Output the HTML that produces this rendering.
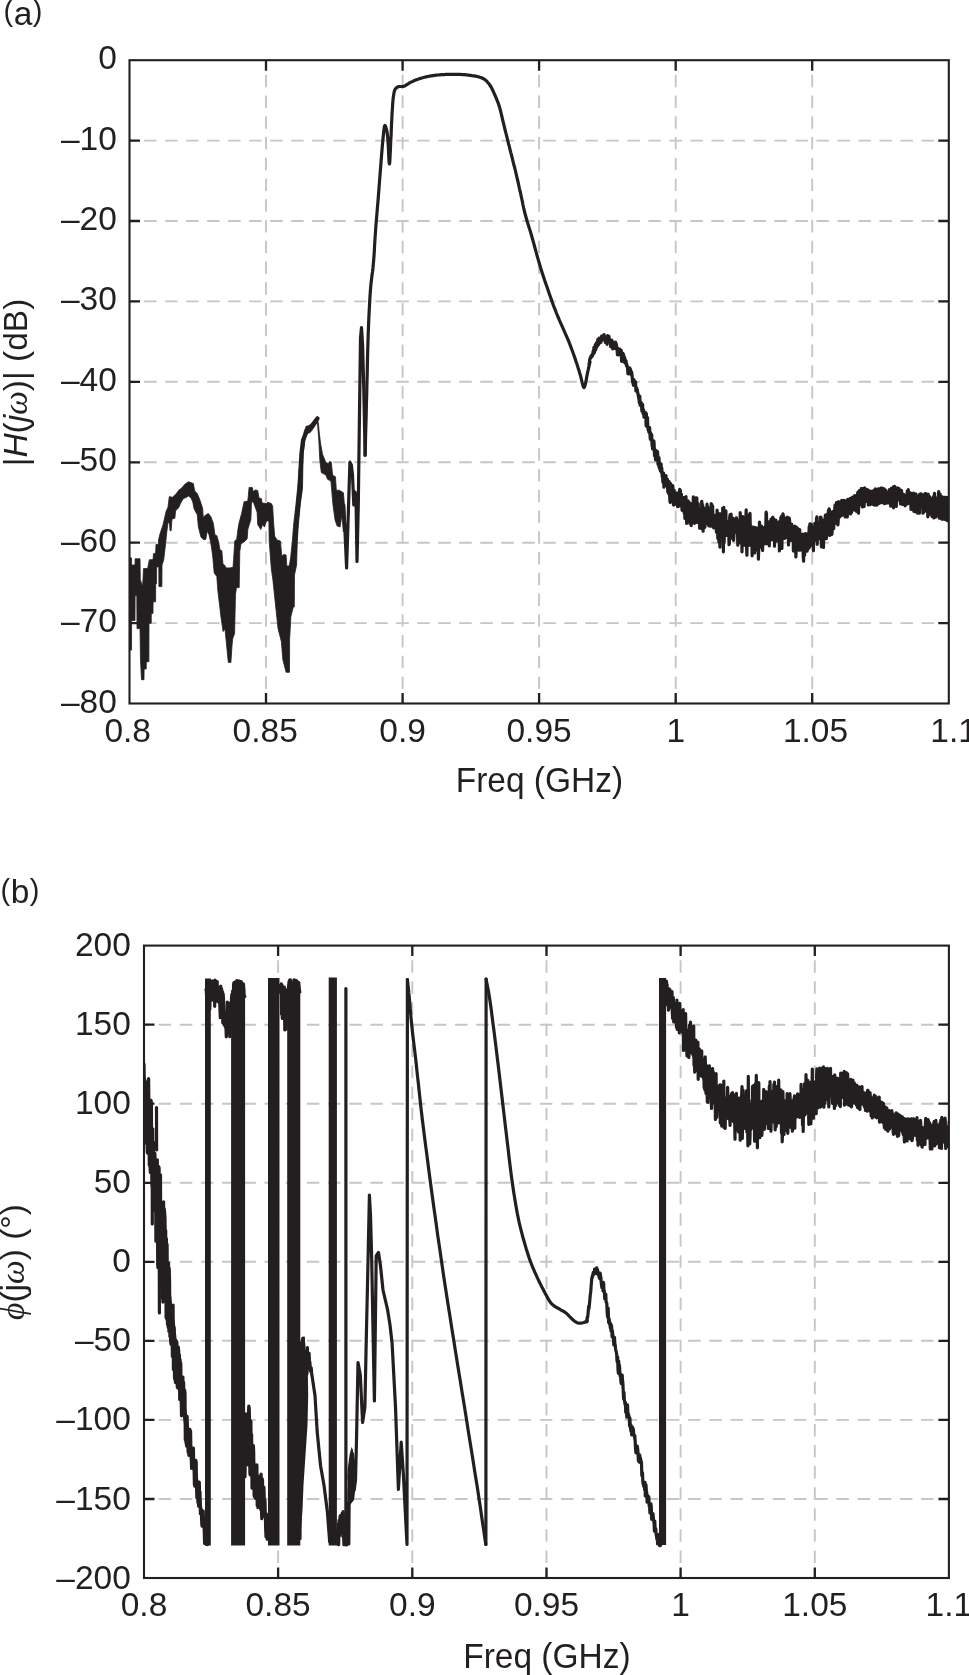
<!DOCTYPE html><html><head><meta charset="utf-8"><style>html,body{margin:0;padding:0;background:#fff;}body{width:969px;height:1675px;overflow:hidden;position:relative;}svg{position:absolute;left:0;top:0;display:block;will-change:transform;}text{font-family:"Liberation Sans",sans-serif;font-size:33.5px;fill:#231f20;}.it{font-style:italic;}.sr{font-family:"Liberation Serif",serif;font-style:italic;}</style></head><body>
<svg width="969" height="1675" viewBox="0 0 969 1675">
<defs><clipPath id="ca"><rect x="129.5" y="60.2" width="819.3" height="643.3"/></clipPath><clipPath id="cb"><rect x="144" y="945.6" width="804.9" height="632.4"/></clipPath></defs>
<line x1="266" y1="60.2" x2="266" y2="703.5" stroke="#c5c6ca" stroke-width="1.9" stroke-dasharray="12.50 8.25" stroke-dashoffset="6.15"/>
<line x1="402.6" y1="60.2" x2="402.6" y2="703.5" stroke="#c5c6ca" stroke-width="1.9" stroke-dasharray="12.50 8.25" stroke-dashoffset="6.15"/>
<line x1="539.1" y1="60.2" x2="539.1" y2="703.5" stroke="#c5c6ca" stroke-width="1.9" stroke-dasharray="12.50 8.25" stroke-dashoffset="6.15"/>
<line x1="675.7" y1="60.2" x2="675.7" y2="703.5" stroke="#c5c6ca" stroke-width="1.9" stroke-dasharray="12.50 8.25" stroke-dashoffset="6.15"/>
<line x1="812.2" y1="60.2" x2="812.2" y2="703.5" stroke="#c5c6ca" stroke-width="1.9" stroke-dasharray="12.50 8.25" stroke-dashoffset="6.15"/>
<line x1="129.5" y1="140.6" x2="948.8" y2="140.6" stroke="#c5c6ca" stroke-width="1.9" stroke-dasharray="12.50 8.51" stroke-dashoffset="6.41"/>
<line x1="129.5" y1="221" x2="948.8" y2="221" stroke="#c5c6ca" stroke-width="1.9" stroke-dasharray="12.50 8.51" stroke-dashoffset="6.41"/>
<line x1="129.5" y1="301.4" x2="948.8" y2="301.4" stroke="#c5c6ca" stroke-width="1.9" stroke-dasharray="12.50 8.51" stroke-dashoffset="6.41"/>
<line x1="129.5" y1="381.8" x2="948.8" y2="381.8" stroke="#c5c6ca" stroke-width="1.9" stroke-dasharray="12.50 8.51" stroke-dashoffset="6.41"/>
<line x1="129.5" y1="462.3" x2="948.8" y2="462.3" stroke="#c5c6ca" stroke-width="1.9" stroke-dasharray="12.50 8.51" stroke-dashoffset="6.41"/>
<line x1="129.5" y1="542.7" x2="948.8" y2="542.7" stroke="#c5c6ca" stroke-width="1.9" stroke-dasharray="12.50 8.51" stroke-dashoffset="6.41"/>
<line x1="129.5" y1="623.1" x2="948.8" y2="623.1" stroke="#c5c6ca" stroke-width="1.9" stroke-dasharray="12.50 8.51" stroke-dashoffset="6.41"/>
<g clip-path="url(#ca)">
<path d="M129 557.9L131.5 557.9L131.6 565L135 565L135.1 558.8L140 558.8L140.3 579.4L142.6 586.6L143.5 568.6L147.6 568.6L148.5 564.2L149.4 559.7L153 559.7L153.5 553.4L155.6 553.4L156 544.5L158.3 544.5L158.5 540L160 533.8L163.1 524.5L166.2 510.9L168 507.2L169.3 496.6L172.4 497.3L175.5 494.5L179.2 489.8L181.7 488L184.8 484.3L188.5 481.8L193.4 483.6L194.7 491L197.2 493.5L199.6 499.1L202.7 508.4L203.3 518.3L204.6 515.8L208.3 513.4L210.8 516.5L213.3 523.3L215 535.1L216.9 535.7L218.7 542.5L220 550L221.8 550.6L223 564.2L224.9 565.4L226.1 567.9L229.9 567.9L233 567.3L233.6 559.3L234.8 540.7L236.7 539.4L237.9 529.5L239.1 522.7L241.6 513.4L244.1 501.7L247.8 501.1L249.1 487.4L252.2 487.4L253.4 491.8L255.2 489.9L257.7 490.5L259 498L261.4 498.6L262.1 502.9L266.4 503.5L267.6 502.3L271.3 503.5L272.6 506L273.8 525.2L274.7 536.2L277.1 540L280.4 541L281.8 556.3L283.8 554.4L286.1 555L286.8 566L289.2 566L290.6 558L292.3 541.5L293.6 525L296 504L297.5 489L299 470L300.5 453.6L302.3 440.4L304.3 431.2L306.3 426L310.2 426L314.1 420.7L317.4 416.5L317.4 422L314.1 427.3L310.2 432.5L306.3 433.8L305 440L303.2 453.4L302.8 470.2L302.5 488.5L300.4 503.6L298.4 524.5L297.3 541.2L296.6 565L294.5 575L294.3 606.9L293.3 606.9L290.9 616.5L289.6 639.9L289.5 672.3L286.1 672.3L282.8 659.4L281.4 641.8L278 628.4L272.8 579.2L271.3 568.7L269.2 541L268.9 520.9L266.4 520.9L264.5 527.1L262.7 524.6L260.8 529.5L257.7 524.6L257.1 512.2L253.4 502.3L251.5 501.7L250.9 519.6L249.7 523.3L247.8 529.5L247.2 538.8L244.1 541.9L241 543.8L239.8 551.2L239.2 587.6L236.5 587.6L235.5 594.2L234.6 633.6L232.6 638.8L231.9 647.3L230.9 662.4L228.3 662.4L225 629L223.1 631.6L220.8 615.8L217.8 590.2L216.8 576.4L214.2 573L212.6 555L210.8 543.1L208.9 534.4L207.1 531.3L205.8 539.4L203.3 539.4L200.9 536.9L198.4 527L197.2 514.6L194.1 509L192.8 502.2L191 497.9L188.5 496L186.6 497.3L183.5 498.5L181.1 502.2L178.6 507.8L175.5 510.9L174.9 518.3L172 519L171.1 530.7L170 530.7L169.5 523L168 522.7L166.8 532L165.6 543.7L163.7 560L162 565L161.9 586.6L158.9 586.6L158.8 566.9L156.6 566.9L156.5 583.9L155.7 583.9L155.6 601.8L153.1 601.8L153 613.4L151.3 613.4L151.2 623.3L149 623.3L148.9 661.8L146.3 661.8L146.2 669L144.1 669L144 679.7L141.5 679.7L140.5 660L140 628.6L137 628.6L136.8 595.5L135.1 595.5L135 620.6L131.6 620.6L131.5 650.1L129 650.1Z" fill="#231f20" stroke="#231f20" stroke-width="0.8" stroke-linejoin="round"/>
<path d="M317.4 416.5L318.5 425L319.2 432L320.5 443L322.5 454.2L325.9 462.6L328.4 463.4L329.5 461.5L331.3 462.1L332.6 475.1L335.5 476.8L336.3 490.2L339.2 490.2L343.4 492.7L344.7 508.5L344.7 525L343.4 531.9L341.8 515.2L340.1 526.9L337.2 526.1L335.1 520.2L333 505.2L331.7 490.2L330.9 481L327.5 479.3L325.9 475.1L321.3 472.6L319.8 460L318.8 440L317.4 422Z" fill="#231f20" stroke="#231f20" stroke-width="0.8" stroke-linejoin="round"/>
<path d="M293.2 565L293.9 557.9L295.1 541.2L296.2 524.5L298.3 503.6L300 488.5L300.6 470.2L301.5 453.4L303.1 440L306.5 431.7L309.5 427.5L312 425.5L315.5 421L317.4 418.5" fill="none" stroke="#231f20" stroke-width="4.3" stroke-linejoin="round" stroke-linecap="round"/>
<path d="M343.8 505L346.6 568L349.9 462.2L351.3 465L352.5 475L353.8 505L355 492L356 497L357 561.5L358.3 505L359.4 420L360.5 338L361.5 327.5L362.6 345L363.9 394.3L365.1 455.2" fill="none" stroke="#231f20" stroke-width="3.2" stroke-linejoin="round" stroke-linecap="round"/>
<path d="M365.1 455.2L365.4 445L365.6 434.9L365.9 424.7L366.2 414.6L366.4 404.4L366.7 394.3L366.9 384.2L367.2 374.1L367.4 363.9L367.6 353.9L367.9 344.1L368.2 334.6L368.5 326.5L368.8 318.6L369.2 310.8L369.6 303.3L370 296.1L370.5 289.3L370.9 284.5L371.4 280.2L371.9 276L372.5 271.8L373 267.5L373.4 263L373.9 257.3L374.3 251.3L374.6 245.2L375 239L375.4 233L375.8 227.2L376.2 222.2L376.6 217.4L377 212.7L377.4 208L377.8 203.3L378.2 198.5L378.6 193.4L379 188.2L379.4 183L379.8 177.8L380.2 172.6L380.6 167.5L381 162.5L381.4 157.4L381.8 152.4L382.2 147.5L382.6 142.9L383 138.8L383.3 136L383.6 133L383.9 130.2L384.2 127.8L384.5 126.1L384.9 125.5L385.2 125.7L385.6 126.4L385.9 127.4L386.3 128.7L386.7 130.1L387 131.6L387.6 136.3L388.1 142.9L388.5 150.2L388.8 157L389.1 162.1L389.4 164L389.7 162.8L389.9 159.7L390.1 155.2L390.4 150L390.6 144.7L390.8 140L391.1 135.1L391.3 129.8L391.5 124.5L391.8 119.3L392 114.4L392.3 110L392.5 107.3L392.6 104.8L392.8 102.3L393 100.1L393.2 98L393.5 96L393.7 94.7L393.9 93.4L394.1 92.2L394.4 91.1L394.7 90.1L395.2 89.2L395.6 88.6L396.1 88.1L396.6 87.7L397.1 87.3L397.7 87L398.3 86.7L399 86.5L399.9 86.5L400.7 86.5L401.6 86.6L402.5 86.6L403.4 86.4L404.5 86L405.7 85.3L406.8 84.6L408.1 83.8L409.3 83L410.6 82.3L412.2 81.6L413.9 80.8L415.7 80.1L417.4 79.4L419.2 78.8L421 78.2L422.7 77.7L424.4 77.3L426.1 76.9L427.9 76.5L429.6 76.2L431.3 75.9L433 75.6L434.7 75.4L436.3 75.2L438 75L439.8 74.8L441.6 74.7L443.9 74.6L446.3 74.4L448.7 74.3L451.2 74.3L453.6 74.3L456 74.3L458.1 74.4L460.2 74.4L462.3 74.6L464.4 74.7L466.4 74.9L468.4 75.1L470.2 75.3L472.1 75.6L473.9 75.8L475.6 76.1L477.3 76.5L478.8 76.9L479.9 77.3L481 77.6L482 78L483 78.5L484 79L484.9 79.6L485.9 80.4L486.8 81.2L487.6 82.2L488.5 83.2L489.3 84.3L490.1 85.5L491.1 87L492 88.7L492.8 90.5L493.7 92.4L494.5 94.2L495.3 96L496 97.7L496.7 99.3L497.4 101L498 102.7L498.7 104.5L499.3 106.4L500.1 109L500.8 111.8L501.5 114.8L502.2 117.8L502.9 120.8L503.6 123.7L504.3 126.6L505 129.5L505.7 132.4L506.5 135.3L507.2 138.2L507.9 141.1L508.6 144L509.4 146.9L510.1 149.8L510.8 152.6L511.6 155.5L512.3 158.4L513 161.3L513.7 164.2L514.5 167L515.2 169.9L515.9 172.8L516.6 175.8L517.3 179L518.1 182.2L518.8 185.5L519.5 188.8L520.3 192L521 195.3L521.7 198.5L522.4 201.8L523 205L523.7 208.2L524.5 211.5L525.3 214.8L526.3 218.3L527.3 221.8L528.4 225.3L529.5 228.9L530.7 232.6L531.8 236.5L533.2 241.4L534.6 246.5L536 251.7L537.5 257.1L539 262.3L540.5 267.5L542.1 272.5L543.7 277.5L545.4 282.5L547.1 287.3L548.7 292L550.2 296.3L551.3 299.4L552.3 302.3L553.3 305L554.3 307.7L555.4 310.3L556.4 313L557.4 315.5L558.5 318L559.5 320.4L560.6 322.8L561.6 325.2L562.7 327.6L563.8 330L564.8 332.4L565.9 334.8L566.9 337.2L568 339.7L569 342.2L570.1 344.9L571.1 347.7L572.2 350.5L573.2 353.3L574.2 356.1L575.2 358.9L576.1 361.7L577.1 364.6L578 367.5L578.9 370.3L579.7 373.1L580.5 375.7L581.1 378.1L581.7 380.7L582.3 383.2L582.9 385.4L583.4 386.9L584 387.5L584.7 386.6L585.3 384.4L586 381.2L586.6 377.7L587.2 374.3L587.8 371.5L588.2 369.8L588.6 368.2L588.9 366.6L589.3 365.1L589.6 363.6L590 362" fill="none" stroke="#231f20" stroke-width="3.2" stroke-linejoin="round" stroke-linecap="round"/>
<path d="M589 360.6L591 355.9L593 351.1L595 346.2L597 341.2L599 339.3L601 337.7L603 336.1L605 336.6L607 337.8L609 338.9L611 340.1L613 342.1L615 344L617 346L619 348L621 351.9L623 356L625 360.1L627 364L629 367.8L631 371.7L633 377L635 383.2L637 389.3L639 395.2L641 401L643 406.7L645 412.9L647 419.5L649 426.2L651 432.9L653 439.9L655 446.9L657 453.1L659 459L661 464.9L663 473.6L665 478.4L667 482.5L669 485.7L671 489L673 491.6L675 494L677 495.9L679 496.9L681 497.9L683 498.9L685 500.1L687 501.2L689 502.4L691 503.2L693 504L695 504.8L697 505.7L699 506.9L701 508.2L703 509.3L705 510.2L707 511.2L709 512.1L711 512.7L713 513.3L715 513.9L717 515L719 516.5L721 518L723 518.6L725 519.2L727 519.8L729 520.5L731 521L733 521.5L735 521.9L737 522.4L739 523.1L741 523.8L743 524.6L745 525L747 525.2L749 525.3L751 525.4L753 525.6L755 526.1L757 526.6L759 527.1L761 526.7L763 526.2L765 525.7L767 525.2L769 524.7L771 524.7L773 524.7L775 524.7L777 524.7L779 525.2L781 525.7L783 526.1L785 526.6L787 527.1L789 527.7L791 529L793 530.4L795 531.7L797 532.7L799 532.8L801 532.9L803 532.9L805 532.7L807 532.5L809 531.8L811 530.4L813 528.9L815 528L817 527.1L819 526.2L821 525.3L823 523L825 520.3L827 517.5L829 514.5L831 512.5L833 510.9L835 508.9L837 507L839 505.3L841 504.6L843 504L845 503.4L847 502.7L849 501.9L851 501.1L853 500L855 498.5L857 497L859 495.6L861 494.3L863 493.5L865 493.5L867 493.5L869 493.5L871 493.1L873 492.5L875 491.9L877 491.4L879 490.8L881 491.2L883 491.9L885 492.6L887 493.3L889 492.6L891 492L893 491.3L895 491L897 491.6L899 492.2L901 492.7L903 493.3L905 494L907 494.6L909 495.3L911 495.7L913 496.2L915 496.7L917 497L919 497.1L921 497.1L923 497.2L925 497.6L927 498.3L929 499.1L931 499.9L933 499.4L935 498.5L937 498.5L939 499.3L941 500L943 500.7L945 500.7L947 500.8L949 500.8L950.5 500.8L950.5 517.3L949 517.3L947 517.2L945 516.7L943 516.3L941 515.6L939 514.9L937 514.2L935 513.6L933 513.3L931 512.7L929 511.5L927 510.3L925 509L923 508.3L921 508.1L919 507.8L917 507.5L915 506.7L913 505.8L911 504.8L909 503.9L907 503.3L905 502.7L903 502L901 501.6L899 501.5L897 501.4L895 501.3L893 501.1L891 501L889 500.8L887 500.6L885 500.5L883 500.4L881 500.3L879 500.2L877 500.6L875 500.9L873 501.2L871 501.5L869 502L867 502.8L865 503.6L863 504.5L861 505.6L859 506.9L857 507.9L855 508.8L853 509.7L851 510.6L849 511.4L847 512.2L845 513.7L843 515.7L841 517.8L839 519.8L837 521.5L835 523.2L833 524.8L831 525.3L829 526.7L827 530.9L825 534.5L823 537.5L821 540L819 540.5L817 541.1L815 541.6L813 542.2L811 542.8L809 543.4L807 544.3L805 545.5L803 546.6L801 546.6L799 546L797 545.4L795 544.1L793 542.6L791 541.2L789 539.7L787 539.1L785 538.8L783 538.4L781 538L779 537.7L777 537.3L775 537.3L773 537.3L771 537.3L769 537.3L767 538.2L765 539.1L763 540L761 540.9L759 541.9L757 541.8L755 541.7L753 541.6L751 541.1L749 540.5L747 539.9L745 539.3L743 538.2L741 536.9L739 535.5L737 534.3L735 533.8L733 533.4L731 532.9L729 532.4L727 532.3L725 532.2L723 532.1L721 532L719 529.1L717 526.2L715 524.4L713 523.8L711 523.2L709 522.6L707 521.7L705 520.8L703 519.8L701 518.7L699 517.4L697 516.2L695 515.7L693 515.5L691 515.4L689 514.6L687 512.4L685 510.2L683 508.1L681 506.6L679 505.2L677 503.8L675 501.9L673 499.8L671 497.3L669 493.8L667 490.2L665 485.8L663 480.6L661 471.9L659 465.7L657 459.6L655 453.1L653 445.9L651 438.6L649 431.8L647 425.1L645 418.5L643 412.2L641 406.2L639 400.2L637 394.2L635 388.1L633 381.9L631 376.5L629 372.4L627 368.4L625 364.3L623 360.5L621 356.6L619 352.8L617 350.7L615 348.6L613 346.4L611 344.3L609 342.9L607 341.6L605 340.3L603 339.6L601 341.2L599 342.8L597 344.7L595 349.4L593 354.1L591 358.7L589 363.4Z" fill="#231f20"/>
<path d="M589 364.1L589.4 362.7L589.7 359.8L590.1 358.6L590.4 357.3L590.8 358.1L591.1 356.1L591.5 355.3L591.8 356.7L592.2 356.1L592.5 355.9L592.9 352.3L593.2 351.2L593.6 354L593.9 347.3L594.3 352.8L594.6 351.1L595 350.6L595.3 344.5L595.7 349.9L596 348.1L596.4 342.9L596.7 344.2L597.1 346.5L597.4 345.8L597.8 339.3L598.1 344.9L598.5 344.6L598.8 344L599.2 338.2L599.5 341.4L599.9 342.7L600.2 341.7L600.6 340.7L600.9 342.4L601.3 338.9L601.6 336.1L602 336.6L602.3 339.5L602.7 337.9L603 339.9L603.4 335.7L603.7 338.1L604.1 334.5L604.4 336.3L604.8 337.2L605.1 338.5L605.5 342.7L605.8 339.7L606.2 339L606.5 341.4L606.9 338.4L607.2 344.3L607.6 335.6L607.9 336.4L608.3 341.9L608.6 338.4L609 336.4L609.3 339.7L609.7 339.6L610 340.1L610.4 340.5L610.7 346.7L611.1 344.2L611.4 347.2L611.8 340.1L612.1 342.5L612.5 341.5L612.8 348.9L613.2 348.1L613.5 348.6L613.9 347.6L614.2 343.8L614.6 343.3L614.9 345.3L615.3 346.2L615.6 342L616 348.7L616.3 343.9L616.7 346.5L617 347.9L617.4 354.7L617.7 348.2L618.1 355L618.4 352.3L618.8 354.9L619.1 354.3L619.5 351.3L619.8 349L620.2 352.1L620.5 351.2L620.9 350.6L621.2 350.3L621.6 361.3L621.9 353L622.3 353.9L622.6 358.4L623 353.3L623.3 360.6L623.7 354.9L624 361.9L624.4 358L624.7 357.5L625.1 363.2L625.4 360L625.8 361.9L626.1 361.1L626.5 366.1L626.8 364.2L627.2 366.3L627.5 367L627.9 373.7L628.2 372L628.6 374L628.9 370.8L629.3 371.2L629.6 367.9L630 368.3L630.3 369L630.7 372.2L631 370.9L631.4 374.9L631.7 372.3L632.1 375.8L632.4 379.7L632.8 382.5L633.1 383.4L633.5 385.3L633.8 379.5L634.2 380.8L634.5 381.6L634.9 385.4L635.2 385.5L635.6 381.8L635.9 390.9L636.3 387.7L636.6 387.9L637 389.6L637.3 389.6L637.7 392.6L638 394.2L638.4 396.1L638.7 398L639.1 400L639.4 402.8L639.8 396.2L640.1 405.1L640.5 405.2L640.8 403.1L641.2 402.5L641.5 405.3L641.9 411.2L642.2 407.2L642.6 404.4L642.9 413.3L643.3 411L643.6 409.8L644 417.1L644.3 414.9L644.7 413.4L645 414.6L645.4 417.8L645.7 412.5L646.1 425.7L646.4 413.7L646.8 424.5L647.1 426.9L647.5 417.6L647.8 426.1L648.2 430L648.5 430.2L648.9 432.1L649.2 427.5L649.6 427.6L649.9 433.7L650.3 439.1L650.6 432.5L651 439.8L651.3 435.7L651.7 434.8L652 444.4L652.4 446.6L652.7 449.1L653.1 443.8L653.4 447.5L653.8 440.8L654.1 443.4L654.5 455.8L654.8 452.4L655.2 449.8L655.5 459.8L655.9 453.1L656.2 458.7L656.6 453.4L656.9 451.2L657.3 455.5L657.6 451.7L658 464.3L658.3 458L658.7 466.1L659 457.5L659.4 468.3L659.7 463.3L660.1 469.7L660.4 471L660.8 468L661.1 463.8L661.5 472.4L661.8 468.1L662.2 476.8L662.5 473.6L662.9 482.3L663.2 477.6L663.6 473L663.9 487.1L664.3 477.3L664.6 485L665 477.4L665.3 482.1L665.7 484.3L666 475.6L666.4 485.5L666.7 483.8L667.1 483L667.4 479.3L667.8 491.9L668.1 481.9L668.5 493.4L668.8 490.6L669.2 481.7L669.5 493.8L669.9 501L670.2 502.5L670.6 483.5L670.9 496.9L671.3 489.9L671.6 485.8L672 486.9L672.3 488.5L672.7 485.5L673 488.2L673.4 504.4L673.7 505.1L674.1 490.1L674.4 498L674.8 495.8L675.1 501.9L675.5 504.1L675.8 497.7L676.2 500.7L676.5 493.1L676.9 498.9L677.2 493L677.6 506.6L677.9 502.3L678.3 493.8L678.6 506.5L679 498.7L679.3 492.2L679.7 489.4L680 489.8L680.4 490.6L680.7 500.8L681.1 502.9L681.4 494L681.8 507.1L682.1 510.4L682.5 507.9L682.8 506.6L683.2 499.2L683.5 497.7L683.9 497.6L684.2 513.4L684.6 504.5L684.9 518.5L685.3 498.6L685.6 513.9L686 496.6L686.3 516.8L686.7 523.3L687 507.6L687.4 510.9L687.7 507.5L688.1 500.9L688.4 503.7L688.8 506.9L689.1 506L689.5 502.5L689.8 523.3L690.2 521.9L690.5 509.3L690.9 503.8L691.2 525.6L691.6 521.2L691.9 512.3L692.3 514.5L692.6 513.5L693 521.7L693.3 496.9L693.7 522.2L694 517.7L694.4 523.5L694.7 508.6L695.1 511.3L695.4 522.8L695.8 497.8L696.1 503L696.5 519.9L696.8 497.8L697.2 522.2L697.5 516.4L697.9 522.5L698.2 503.6L698.6 519.5L698.9 514.1L699.3 511.5L699.6 528.1L700 514.3L700.3 512.4L700.7 520.7L701 521.4L701.4 528.5L701.7 501.3L702.1 503.8L702.4 509L702.8 505.6L703.1 531.2L703.5 511.3L703.8 528.2L704.2 516.3L704.5 508.5L704.9 527.3L705.2 516.4L705.6 517.2L705.9 508L706.3 510.5L706.6 523.6L707 504.2L707.3 514L707.7 506.8L708 508.4L708.4 515.9L708.7 525.8L709.1 517.2L709.4 524.4L709.8 521.3L710.1 526L710.5 526.2L710.8 521.7L711.2 503.5L711.5 507.1L711.9 504.5L712.2 510.8L712.6 506.1L712.9 522.1L713.3 527.3L713.6 523.7L714 528L714.3 523.7L714.7 519.3L715 518L715.4 516.2L715.7 520.9L716.1 517L716.4 532.1L716.8 517.8L717.1 510.1L717.5 518.4L717.8 538.4L718.2 523.6L718.5 513.3L718.9 542.1L719.2 532.4L719.6 517.2L719.9 547.1L720.3 521.5L720.6 526.3L721 530.9L721.3 526.7L721.7 513L722 537.4L722.4 531.3L722.7 508.2L723.1 528.9L723.4 551.8L723.8 507.4L724.1 542.7L724.5 529.7L724.8 532L725.2 526.8L725.5 526.6L725.9 510.8L726.2 535.5L726.6 521.3L726.9 523L727.3 532.4L727.6 521.9L728 521.9L728.3 526.4L728.7 522.8L729 544.7L729.4 543.6L729.7 517.2L730.1 514.6L730.4 535.4L730.8 538.3L731.1 514.1L731.5 536.4L731.8 526.7L732.2 518.7L732.5 530.5L732.9 520.4L733.2 518.3L733.6 540.4L733.9 536.7L734.3 522.7L734.6 525.3L735 519.5L735.3 527.4L735.7 530.3L736 520.7L736.4 517.8L736.7 518.9L737.1 520.8L737.4 524.9L737.8 545.2L738.1 525.7L738.5 538.8L738.8 528.2L739.2 528L739.5 533.1L739.9 537.6L740.2 512.5L740.6 534.9L740.9 543.1L741.3 527.2L741.6 523.6L742 551.8L742.3 521.2L742.7 516.6L743 532.9L743.4 531.5L743.7 543.3L744.1 534.1L744.4 545.2L744.8 543.9L745.1 544.5L745.5 539.4L745.8 517.4L746.2 509.9L746.5 543L746.9 555.2L747.2 539.7L747.6 545.7L747.9 520.3L748.3 531.6L748.6 535.9L749 515L749.3 538.1L749.7 545.2L750 513.3L750.4 531L750.7 538.6L751.1 529L751.4 536.4L751.8 528.7L752.1 555.8L752.5 540.4L752.8 544.3L753.2 531.8L753.5 547.7L753.9 539.1L754.2 539.9L754.6 553L754.9 550L755.3 538.2L755.6 550.2L756 542L756.3 538L756.7 537.3L757 534.9L757.4 538L757.7 550.1L758.1 537L758.4 559.1L758.8 547.1L759.1 534.1L759.5 522L759.8 537.2L760.2 540.7L760.5 525.8L760.9 533.7L761.2 536.1L761.6 526.2L761.9 547.8L762.3 541.6L762.6 550.5L763 532.5L763.3 538.6L763.7 534.1L764 543.2L764.4 540.1L764.7 531.6L765.1 543.8L765.4 531.3L765.8 526.1L766.1 512.2L766.5 514.1L766.8 536.2L767.2 543.7L767.5 540.5L767.9 539.7L768.2 531.7L768.6 521.8L768.9 542.1L769.3 545.9L769.6 528.7L770 539L770.3 525.3L770.7 532.4L771 519L771.4 526.6L771.7 539.8L772.1 526.5L772.4 520.1L772.8 517.3L773.1 518.3L773.5 523.4L773.8 518.9L774.2 528.2L774.5 546.2L774.9 530.9L775.2 534.5L775.6 541L775.9 520L776.3 536.6L776.6 525.7L777 534.6L777.3 540.8L777.7 538L778 530.2L778.4 538.2L778.7 527.4L779.1 521.8L779.4 550.9L779.8 545.7L780.1 532.9L780.5 542.2L780.8 517.7L781.2 544.9L781.5 516.3L781.9 548.5L782.2 527.4L782.6 519.4L782.9 513.8L783.3 515.1L783.6 532.1L784 532.6L784.3 531.7L784.7 538.3L785 532.5L785.4 520.2L785.7 518L786.1 526.8L786.4 524.9L786.8 519.8L787.1 519.1L787.5 517.2L787.8 519.9L788.2 520.8L788.5 544.9L788.9 526.6L789.2 518.1L789.6 520.2L789.9 539.2L790.3 540.8L790.6 532.6L791 524.9L791.3 525L791.7 524.1L792 535.7L792.4 537.4L792.7 527.3L793.1 535.8L793.4 550.9L793.8 551L794.1 548L794.5 550.4L794.8 526.1L795.2 531.2L795.5 536.5L795.9 557L796.2 549.5L796.6 527.4L796.9 529.6L797.3 535.5L797.6 529.1L798 528.7L798.3 535.7L798.7 543.1L799 550.2L799.4 546.3L799.7 529.5L800.1 550.2L800.4 536.6L800.8 536.1L801.1 542.6L801.5 540.6L801.8 544.6L802.2 539L802.5 534L802.9 537.8L803.2 554.8L803.6 561.2L803.9 541.3L804.3 547.5L804.6 555.3L805 545L805.3 533.6L805.7 547.2L806 543.6L806.4 547L806.7 547.4L807.1 551.2L807.4 548.6L807.8 541.1L808.1 539.3L808.5 548.4L808.8 537.7L809.2 526.6L809.5 547.2L809.9 523.8L810.2 531.4L810.6 533.4L810.9 534.2L811.3 524.1L811.6 540.8L812 530.7L812.3 527.1L812.7 546.2L813 542.9L813.4 550.6L813.7 538L814.1 528.6L814.4 536.8L814.8 523.4L815.1 538L815.5 523.5L815.8 540L816.2 540.5L816.5 518.4L816.9 516.9L817.2 544.3L817.6 522.9L817.9 534.2L818.3 528.7L818.6 528.6L819 522.5L819.3 536.3L819.7 528.1L820 537.3L820.4 517.1L820.7 521.1L821.1 517.3L821.4 546.8L821.8 526.4L822.1 525.3L822.5 544.8L822.8 530.1L823.2 539.8L823.5 547.5L823.9 519.8L824.2 521.4L824.6 533.1L824.9 526L825.3 515.1L825.6 515.8L826 518.6L826.3 538.7L826.7 535.6L827 521.1L827.4 513.8L827.7 526.6L828.1 529.1L828.4 510.4L828.8 533.9L829.1 508.8L829.5 510.2L829.8 535.4L830.2 533L830.5 535L830.9 521.2L831.2 523.2L831.6 515L831.9 534.4L832.3 529.5L832.6 511.7L833 514.2L833.3 517.2L833.7 528.6L834 521.5L834.4 523.5L834.7 509.7L835.1 505L835.4 523.1L835.8 506.8L836.1 505.4L836.5 502.5L836.8 514.6L837.2 521.5L837.5 508.3L837.9 524.9L838.2 520.9L838.6 501.6L838.9 516.6L839.3 507.8L839.6 502.5L840 509.8L840.3 507.7L840.7 515.5L841 507.8L841.4 515.5L841.7 500.3L842.1 509L842.4 507.7L842.8 514.1L843.1 512L843.5 500.6L843.8 515L844.2 507.8L844.5 500.4L844.9 511.3L845.2 516.9L845.6 516.4L845.9 509.6L846.3 511.9L846.6 512.7L847 516.6L847.3 516.9L847.7 499.3L848 503.8L848.4 507.9L848.7 507.1L849.1 511.3L849.4 510.6L849.8 506.1L850.1 498.3L850.5 513.9L850.8 512.1L851.2 510.5L851.5 512.7L851.9 507L852.2 497.4L852.6 497.2L852.9 507.1L853.3 509.9L853.6 501.8L854 505.7L854.3 498.1L854.7 495.7L855 500.6L855.4 498.1L855.7 510.8L856.1 504.2L856.4 502.8L856.8 511.5L857.1 500.3L857.5 494.2L857.8 492.4L858.2 499L858.5 513.2L858.9 491.3L859.2 490.8L859.6 504.8L859.9 501.1L860.3 504.2L860.6 498L861 491.3L861.3 488.6L861.7 501L862 490.1L862.4 506.9L862.7 488.6L863.1 506.7L863.4 496.8L863.8 505.6L864.1 506.4L864.5 489L864.8 488L865.2 494.1L865.5 496L865.9 496.8L866.2 498.8L866.6 490.6L866.9 491L867.3 489.6L867.6 497.7L868 491.3L868.3 504.9L868.7 490.6L869 501L869.4 501.3L869.7 494.1L870.1 504.6L870.4 491.1L870.8 501.8L871.1 499.4L871.5 503.2L871.8 491.3L872.2 494.9L872.5 498.5L872.9 504.3L873.2 504L873.6 501.7L873.9 490.4L874.3 503.6L874.6 505.1L875 500.6L875.3 488.8L875.7 501.1L876 490.2L876.4 502.9L876.7 505.2L877.1 504.7L877.4 502L877.8 489.1L878.1 489L878.5 493L878.8 497.9L879.2 503.5L879.5 499L879.9 495.2L880.2 502.4L880.6 488.2L880.9 497.5L881.3 493.8L881.6 502.7L882 488L882.3 489.1L882.7 488.5L883 501.1L883.4 499.3L883.7 488.8L884.1 489L884.4 503.6L884.8 494.1L885.1 492.8L885.5 490.1L885.8 503.2L886.2 503.1L886.5 502.7L886.9 492L887.2 502.9L887.6 497.4L887.9 498.9L888.3 496.2L888.6 503L889 501.6L889.3 489.7L889.7 494.1L890 502.5L890.4 490.4L890.7 506.1L891.1 500.8L891.4 488.3L891.8 488.1L892.1 498.1L892.5 501.6L892.8 504.8L893.2 487.1L893.5 507.8L893.9 490.3L894.2 489.4L894.6 486.4L894.9 490.7L895.3 504.3L895.6 493.7L896 504.7L896.3 506.5L896.7 489.3L897 489.1L897.4 487.8L897.7 488.9L898.1 496.2L898.4 488.7L898.8 493.7L899.1 488.7L899.5 491.3L899.8 498.9L900.2 494.1L900.5 504L900.9 490.4L901.2 490.4L901.6 490.7L901.9 499.3L902.3 496.1L902.6 504.4L903 502L903.3 501.8L903.7 494.4L904 499.1L904.4 501.7L904.7 496.6L905.1 505.8L905.4 502.9L905.8 501.9L906.1 503L906.5 504L906.8 501.7L907.2 491.2L907.5 503.8L907.9 502.1L908.2 489.5L908.6 494.8L908.9 491.8L909.3 498.8L909.6 492.6L910 503.5L910.3 492.9L910.7 493.1L911 509.4L911.4 500.7L911.7 502.9L912.1 507.5L912.4 494.3L912.8 493.8L913.1 504.9L913.5 493L913.8 511.3L914.2 496.5L914.5 508.5L914.9 500.2L915.2 509.2L915.6 511.8L915.9 493.8L916.3 498.2L916.6 500.5L917 504.7L917.3 496.2L917.7 513.2L918 498.8L918.4 508.3L918.7 505.5L919.1 495.4L919.4 513.2L919.8 494.2L920.1 504.9L920.5 494L920.8 504.8L921.2 493.9L921.5 494.2L921.9 505.8L922.2 499.2L922.6 495.3L922.9 513.2L923.3 499.9L923.6 512.3L924 504.5L924.3 494.6L924.7 507.6L925 493.6L925.4 508.7L925.7 493.6L926.1 496.6L926.4 511.1L926.8 495.5L927.1 495.2L927.5 501.9L927.8 516.8L928.2 494L928.5 515L928.9 513.4L929.2 506.5L929.6 500L929.9 496.8L930.3 513.9L930.6 512.5L931 513.7L931.3 506L931.7 507L932 516.5L932.4 509.7L932.7 498.3L933.1 510.7L933.4 497.2L933.8 518L934.1 495.7L934.5 493.4L934.8 504.7L935.2 497.4L935.5 515.6L935.9 517L936.2 515.8L936.6 503.2L936.9 502.3L937.3 502.8L937.6 515.5L938 509.9L938.3 497.3L938.7 491.5L939 504.1L939.4 518.2L939.7 505.4L940.1 494.1L940.4 499L940.8 496L941.1 508.7L941.5 515.1L941.8 519.1L942.2 496.8L942.5 519.3L942.9 510.4L943.2 499.7L943.6 515.1L943.9 497.4L944.3 504.4L944.6 497.4L945 519.4L945.3 507.5L945.7 497.4L946 497.4L946.4 519.4L946.7 520.3L947.1 500.9L947.4 520.6L947.8 507L948.1 497.4L948.5 503.3L948.8 515.9L949.2 520.6L949.5 502.1L949.9 497.4L950.2 497.4" fill="none" stroke="#231f20" stroke-width="3.2" stroke-linejoin="round" stroke-linecap="round"/>
</g>
<path d="M266 703.5V693M266 60.2V70.7M402.6 703.5V693M402.6 60.2V70.7M539.1 703.5V693M539.1 60.2V70.7M675.7 703.5V693M675.7 60.2V70.7M812.2 703.5V693M812.2 60.2V70.7M129.5 140.6H140M948.8 140.6H938.3M129.5 221H140M948.8 221H938.3M129.5 301.4H140M948.8 301.4H938.3M129.5 381.8H140M948.8 381.8H938.3M129.5 462.3H140M948.8 462.3H938.3M129.5 542.7H140M948.8 542.7H938.3M129.5 623.1H140M948.8 623.1H938.3" stroke="#231f20" stroke-width="2.3" fill="none"/>
<rect x="129.5" y="60.2" width="819.3" height="643.3" fill="none" stroke="#231f20" stroke-width="2.1"/>
<line x1="278.1" y1="945.6" x2="278.1" y2="1578" stroke="#c5c6ca" stroke-width="1.9" stroke-dasharray="12.50 8.58" stroke-dashoffset="6.48"/>
<line x1="412.3" y1="945.6" x2="412.3" y2="1578" stroke="#c5c6ca" stroke-width="1.9" stroke-dasharray="12.50 8.58" stroke-dashoffset="6.48"/>
<line x1="546.5" y1="945.6" x2="546.5" y2="1578" stroke="#c5c6ca" stroke-width="1.9" stroke-dasharray="12.50 8.58" stroke-dashoffset="6.48"/>
<line x1="680.6" y1="945.6" x2="680.6" y2="1578" stroke="#c5c6ca" stroke-width="1.9" stroke-dasharray="12.50 8.58" stroke-dashoffset="6.48"/>
<line x1="814.8" y1="945.6" x2="814.8" y2="1578" stroke="#c5c6ca" stroke-width="1.9" stroke-dasharray="12.50 8.58" stroke-dashoffset="6.48"/>
<line x1="144" y1="1024.7" x2="948.9" y2="1024.7" stroke="#c5c6ca" stroke-width="1.9" stroke-dasharray="12.50 8.68" stroke-dashoffset="6.58"/>
<line x1="144" y1="1103.7" x2="948.9" y2="1103.7" stroke="#c5c6ca" stroke-width="1.9" stroke-dasharray="12.50 8.68" stroke-dashoffset="6.58"/>
<line x1="144" y1="1182.8" x2="948.9" y2="1182.8" stroke="#c5c6ca" stroke-width="1.9" stroke-dasharray="12.50 8.68" stroke-dashoffset="6.58"/>
<line x1="144" y1="1261.8" x2="948.9" y2="1261.8" stroke="#c5c6ca" stroke-width="1.9" stroke-dasharray="12.50 8.68" stroke-dashoffset="6.58"/>
<line x1="144" y1="1340.8" x2="948.9" y2="1340.8" stroke="#c5c6ca" stroke-width="1.9" stroke-dasharray="12.50 8.68" stroke-dashoffset="6.58"/>
<line x1="144" y1="1419.9" x2="948.9" y2="1419.9" stroke="#c5c6ca" stroke-width="1.9" stroke-dasharray="12.50 8.68" stroke-dashoffset="6.58"/>
<line x1="144" y1="1499" x2="948.9" y2="1499" stroke="#c5c6ca" stroke-width="1.9" stroke-dasharray="12.50 8.68" stroke-dashoffset="6.58"/>
<g clip-path="url(#cb)">
<rect x="205" y="978.5" width="5.8" height="567" fill="#231f20"/>
<rect x="231.1" y="990" width="14" height="555.5" fill="#231f20"/>
<rect x="268" y="978" width="11.5" height="567.5" fill="#231f20"/>
<rect x="287.2" y="986" width="13.1" height="559.5" fill="#231f20"/>
<rect x="328.7" y="977.5" width="8.2" height="568" fill="#231f20"/>
<rect x="659" y="978" width="7.1" height="567" fill="#231f20"/>
<path d="M143 1069.3L145 1076.5L147 1081.3L149 1096.9L151 1113.8L153 1144.9L155 1162.4L157 1176.9L159 1187.4L161 1197.9L163 1212L165 1234.8L167 1256.9L169 1277.6L171 1294.3L173 1312.6L175 1323.6L177 1343.1L179 1359.8L181 1372.9L183 1386.1L185 1400.7L187 1414.1L189 1426.5L191 1438.9L193 1450.6L195 1461L197 1471.3L199 1484.3L201 1498L203 1513.1L205 1526.9L207 1536.4L207.5 1538.7L207.5 1544.3L207 1543.6L205 1540.7L203 1529.1L201 1514.5L199 1503.7L197 1493L195 1482.6L193 1471.2L191 1459.6L189 1450L187 1440.4L185 1430.6L183 1417.4L181 1404.2L179 1391.4L177 1379.9L175 1367.7L173 1353.4L171 1333.5L169 1320L167 1307.7L165 1295L163 1282L161 1268.6L159 1255.1L157 1241.6L155 1211.2L153 1187.3L151 1163L149 1148.4L147 1134.2L145 1118.6L143 1092.7Z" fill="#231f20"/>
<path d="M143 1069.3L143.3 1063.7L143.7 1098.4L144 1064.2L144.4 1091.7L144.7 1098L145.1 1132.3L145.4 1135.3L145.8 1141L146.1 1143.4L146.5 1096.3L146.8 1098.5L147.2 1150.7L147.5 1153.1L147.9 1124.7L148.2 1093.3L148.6 1078.7L148.9 1107.8L149.3 1165.2L149.6 1150.2L150 1163.1L150.3 1172.5L150.7 1141L151 1100.3L151.4 1103.3L151.7 1158.2L152.1 1185.8L152.4 1128.6L152.8 1129L153.1 1201.1L153.5 1142L153.8 1210.2L154.2 1177.5L154.5 1182.5L154.9 1153.4L155.2 1167.5L155.6 1170.9L155.9 1241.2L156.3 1178.3L156.6 1222.5L157 1222.9L157.3 1159.8L157.7 1265.4L158 1267.9L158.4 1200.8L158.7 1166.5L159.1 1168.2L159.4 1226.3L159.8 1280.6L160.1 1278.5L160.5 1174.8L160.8 1286.1L161.2 1248L161.5 1248.9L161.9 1261.5L162.2 1298.3L162.6 1231.7L162.9 1302.1L163.3 1229.3L163.6 1201.8L164 1291.8L164.3 1209.1L164.7 1213.6L165 1218.1L165.4 1253.1L165.7 1230.3L166.1 1317.7L166.4 1238.5L166.8 1319.4L167.1 1244.3L167.5 1324.5L167.8 1264.6L168.2 1327.4L168.5 1262.9L168.9 1331.4L169.2 1268L169.6 1282.5L169.9 1336.5L170.3 1322.5L170.6 1340.7L171 1344.3L171.3 1334.2L171.7 1321.8L172 1319.3L172.4 1356.5L172.7 1323.6L173.1 1305.1L173.4 1369.4L173.8 1349.9L174.1 1327.7L174.5 1377.5L174.8 1379.2L175.2 1379.6L175.5 1382.7L175.9 1343.2L176.2 1340.7L176.6 1352.5L176.9 1342L177.3 1387.5L177.6 1378.7L178 1375.4L178.3 1347L178.7 1350.6L179 1389.3L179.4 1354.7L179.7 1399.6L180.1 1359.5L180.4 1369.3L180.8 1363.2L181.1 1392L181.5 1415.8L181.8 1406.4L182.2 1393.6L182.5 1386L182.9 1377.1L183.2 1405.9L183.6 1382.3L183.9 1399.5L184.3 1391L184.6 1390.1L185 1392.7L185.3 1440.1L185.7 1420.7L186 1442.5L186.4 1444.1L186.7 1446.2L187.1 1416.3L187.4 1432.5L187.8 1437.6L188.1 1452.2L188.5 1431.7L188.8 1455.3L189.2 1446.6L189.5 1431L189.9 1429.3L190.2 1435.5L190.6 1431.2L190.9 1453.3L191.3 1459.9L191.6 1468.4L192 1460.4L192.3 1456.1L192.7 1458.2L193 1457.5L193.4 1448L193.7 1465.2L194.1 1469.4L194.4 1484.4L194.8 1486.2L195.1 1460.4L195.5 1485.7L195.8 1460.3L196.2 1461.8L196.5 1485.7L196.9 1497.9L197.2 1486.3L197.6 1482.9L197.9 1502.5L198.3 1490.5L198.6 1506.1L199 1482.1L199.3 1482.2L199.7 1504L200 1491.8L200.4 1513.7L200.7 1510.2L201.1 1509.5L201.4 1514.2L201.8 1524L202.1 1526.2L202.5 1512.3L202.8 1512.7L203.2 1511.1L203.5 1521.5L203.9 1521.8L204.2 1529.5L204.6 1543.4L204.9 1536.7L205.3 1543.4L205.6 1543.9L206 1544L206.3 1531.8L206.7 1541.5L207 1544.4L207.4 1544.6" fill="none" stroke="#231f20" stroke-width="3.2" stroke-linejoin="round" stroke-linecap="round"/>
<path d="M156.5 1107.5L156.6 1150" fill="none" stroke="#231f20" stroke-width="3.2" stroke-linejoin="round" stroke-linecap="round"/>
<path d="M152.2 1165L152.3 1224" fill="none" stroke="#231f20" stroke-width="3.2" stroke-linejoin="round" stroke-linecap="round"/>
<path d="M159.3 1270L159.4 1313" fill="none" stroke="#231f20" stroke-width="3.2" stroke-linejoin="round" stroke-linecap="round"/>
<path d="M147.5 1090L147.6 1130" fill="none" stroke="#231f20" stroke-width="3.2" stroke-linejoin="round" stroke-linecap="round"/>
<path d="M206 984L208 984.8L210 986L212 987.2L214 987.2L216 987.1L218 987L220 991.7L222 1000.3L224 1007.1L226 1013.3L228 1014.5L230 1012.8L232 997.8L234 986.4L236 984.3L238 983.5L240 984.1L242 985.4L244 987.4L245 988.4L245 994.6L244 993.6L242 991.6L240 990.2L238 989.3L236 990.2L234 993.1L232 1009.5L230 1028.5L228 1030.3L226 1028.7L224 1024.4L222 1018.1L220 1003.9L218 997.5L216 1000.7L214 1000.4L212 998.1L210 996.5L208 994.9L206 993Z" fill="#231f20"/>
<path d="M206 989.7L206.3 990.2L206.7 998.4L207 998.3L207.4 992.1L207.7 1007.8L208.1 1003.2L208.4 984L208.8 1008.5L209.1 996.8L209.5 998L209.8 1009.2L210.2 995.2L210.5 980.8L210.9 986L211.2 987.2L211.6 997.3L211.9 981.3L212.3 1000L212.6 981L213 983.3L213.3 984.3L213.7 981.1L214 992.4L214.4 989.6L214.7 1006.3L215.1 980.2L215.4 984.6L215.8 988.5L216.1 992.8L216.5 982.2L216.8 998.1L217.2 981.6L217.5 1001.3L217.9 991.6L218.2 987L218.6 998.4L218.9 1002.4L219.3 996.6L219.6 1000.7L220 1010.1L220.3 1017.6L220.7 986.1L221 1010.6L221.4 988.3L221.7 989.4L222.1 1006.3L222.4 991.5L222.8 1022.8L223.1 993.5L223.5 998.9L223.8 1009.8L224.2 1024.7L224.5 1016.6L224.9 1022.7L225.2 1026.9L225.6 1027L225.9 1025.9L226.3 1036.8L226.6 1032.2L227 1018.5L227.3 1002.1L227.7 1006.7L228 1032.3L228.4 1024.8L228.7 1023L229.1 1003.1L229.4 1024.8L229.8 1036.7L230.1 1031.1L230.5 1014.1L230.8 1010.8L231.2 1027.3L231.5 998.1L231.9 994.3L232.2 1003.5L232.6 997.2L232.9 1000.1L233.3 998.6L233.6 984.2L234 982.7L234.3 993.6L234.7 982.1L235 992.6L235.4 982.3L235.7 993.5L236.1 996.2L236.4 992.8L236.8 980.6L237.1 992.4L237.5 980.5L237.8 987.4L238.2 992.9L238.5 989.7L238.9 989.9L239.2 986.2L239.6 981.2L239.9 983L240.3 982.8L240.6 991.2L241 995.9L241.3 981.7L241.7 997.3L242 983.6L242.4 988.6L242.7 983.9L243.1 987.7L243.4 983.8L243.8 988.2L244.1 995L244.5 995.7L244.8 996.5" fill="none" stroke="#231f20" stroke-width="3.2" stroke-linejoin="round" stroke-linecap="round"/>
<path d="M245 1416L247 1421.4L249 1426.8L251 1438L253 1449.4L255 1461.4L257 1470.1L259 1476.6L261 1483.1L263 1492.5L265 1503.6L267 1526.3L268.4 1540.6L268.4 1543.4L267 1535.1L265 1518.5L263 1509L261 1500.7L259 1495L257 1489.2L255 1482.1L253 1473L251 1465.2L249 1458.2L247 1451.1L245 1444Z" fill="#231f20"/>
<path d="M245 1476.6L245.3 1459.3L245.7 1413.9L246 1445.6L246.4 1447.6L246.7 1429.4L247.1 1462.6L247.4 1439.4L247.8 1436L248.1 1465L248.5 1413.2L248.8 1406L249.2 1407.9L249.5 1419.5L249.9 1473.6L250.2 1474.9L250.6 1465.3L250.9 1421.2L251.3 1464.7L251.6 1434.4L252 1488.1L252.3 1463.1L252.7 1463.3L253 1470.1L253.4 1445.6L253.7 1452.6L254.1 1495.3L254.4 1496.6L254.8 1492.5L255.1 1474.4L255.5 1498.3L255.8 1486.8L256.2 1473.5L256.5 1497.4L256.9 1464.9L257.2 1505.6L257.6 1476.2L257.9 1507.6L258.3 1481.5L258.6 1476.4L259 1503.7L259.4 1494.8L259.7 1499.4L260.1 1485.3L260.4 1500.3L260.8 1509.6L261.1 1474.1L261.5 1510.4L261.8 1518.6L262.2 1478.9L262.5 1480.5L262.9 1512.7L263.2 1502.6L263.6 1516.1L263.9 1487.2L264.3 1499.8L264.6 1499.1L265 1501.1L265.3 1514.5L265.7 1529.7L266 1536.6L266.4 1513.8L266.7 1524.3L267.1 1539.1L267.4 1534.1L267.8 1539.2L268.1 1537.6" fill="none" stroke="#231f20" stroke-width="3.2" stroke-linejoin="round" stroke-linecap="round"/>
<path d="M279.5 984.8L281.5 990.5L283.5 993.1L285.5 995.6L287.5 984L289.5 982.7L291.5 981.5L293.5 982L295.5 983L297.5 984.8L299.5 986.8L300 987.4L300 993.6L299.5 993L297.5 990.6L295.5 988.5L293.5 987.5L291.5 987.5L289.5 990.3L287.5 993L285.5 1014.7L283.5 1009.5L281.5 1002.5L279.5 993.2Z" fill="#231f20"/>
<path d="M279.5 991.7L279.9 985.7L280.2 989.7L280.6 989.2L280.9 989.8L281.3 983.9L281.6 1014.2L282 984.8L282.3 1018.4L282.7 993.4L283 1006L283.4 999.1L283.7 1009.6L284.1 1015L284.4 987L284.8 1029.9L285.1 1009.8L285.5 1021.7L285.8 1001.3L286.2 1029.2L286.5 998.6L286.9 1001.2L287.2 989.8L287.6 994.6L287.9 995.6L288.3 994.3L288.6 994.2L289 981.5L289.3 985.6L289.7 980L290 979.8L290.4 979.8L290.7 989.3L291.1 988.1L291.4 991.5L291.8 984.3L292.1 990.4L292.5 989.4L292.8 984.5L293.2 983.1L293.5 987.2L293.9 979.9L294.2 982.1L294.6 987.6L294.9 980.1L295.3 995.2L295.6 989.9L296 986.4L296.3 980.6L296.7 990.5L297 981.2L297.4 993.9L297.7 987L298.1 989L298.4 993.9L298.8 982.5L299.1 987.2L299.5 990.7L299.8 992" fill="none" stroke="#231f20" stroke-width="3.2" stroke-linejoin="round" stroke-linecap="round"/>
<path d="M300 1432L302 1371.4L304 1350.4L306 1350.7L308 1354.8L310 1361.4L311.6 1370.9L311.6 1375.1L310 1366.5L308 1365.2L306 1370.2L304 1385.3L302 1424.6L300 1488Z" fill="#231f20"/>
<path d="M300 1538.6L300.4 1404L300.7 1428.2L301.1 1415.9L301.4 1398L301.8 1456.1L302.1 1357.9L302.5 1339.7L302.8 1338.3L303.2 1338.1L303.5 1354.9L303.9 1372.4L304.2 1399.2L304.6 1383.1L304.9 1375.2L305.3 1388.4L305.6 1380L306 1364.3L306.3 1356.9L306.7 1363.1L307 1373.8L307.4 1347.5L307.7 1360.5L308.1 1368.5L308.4 1368.3L308.8 1362.2L309.1 1353.4L309.5 1362.4L309.8 1361.7L310.2 1366.2L310.5 1371.1L310.9 1368.9L311.2 1367.8L311.6 1371" fill="none" stroke="#231f20" stroke-width="3.2" stroke-linejoin="round" stroke-linecap="round"/>
<path d="M300 1342L302.2 1337.5L304.6 1336.5L306 1352L307.6 1362L308.2 1395L307.5 1425L305.5 1455L303.5 1485L302.5 1510L301 1530L300 1530Z" fill="#231f20"/>
<path d="M347.6 1470L349.5 1455L351.6 1447L353 1450L354.2 1475L355.3 1490L354 1500L350 1505L347.6 1500Z" fill="#231f20"/>
<path d="M311.6 1373L315 1395.5L317.2 1432L320.6 1466L324 1485.3L327.4 1512L329.7 1542" fill="none" stroke="#231f20" stroke-width="3.2" stroke-linejoin="round" stroke-linecap="round"/>
<path d="M336.9 1522.4L338.9 1523.7L340.9 1523.3L342.9 1520.8L344.9 1521.7L346.9 1522.7L348.9 1502.4L349.5 1496L349.5 1524L348.9 1526.7L346.9 1535.2L344.9 1534.2L342.9 1533.4L340.9 1534.9L338.9 1534.9L336.9 1533.6Z" fill="#231f20"/>
<path d="M336.9 1530.1L337.2 1535.1L337.6 1537.8L338 1544.3L338.3 1533.1L338.7 1544.6L339 1520.4L339.4 1536L339.7 1521.6L340.1 1516.3L340.4 1515.7L340.8 1517.2L341.1 1530.2L341.5 1526.1L341.8 1522.5L342.2 1513L342.5 1525.9L342.9 1536.5L343.2 1511.5L343.6 1534.8L343.9 1544.6L344.3 1518.1L344.6 1536.2L345 1543.4L345.3 1527.3L345.7 1524.8L346 1535.6L346.4 1540.1L346.7 1513.3L347.1 1544.6L347.4 1518L347.8 1502.8L348.1 1529.3L348.5 1523.4L348.8 1543.9L349.2 1489.7L349.5 1502.1" fill="none" stroke="#231f20" stroke-width="3.2" stroke-linejoin="round" stroke-linecap="round"/>
<path d="M349 1478L350.5 1465L352.4 1453.5L354.2 1490L355.5 1480L356.5 1440L358 1362.5L360.3 1375L362.6 1422.5L364.9 1407L366 1352.4L368.3 1248L369.4 1195L370.5 1215L371.7 1259.4L373 1330L374.4 1401L375.3 1330L376.2 1256L378.5 1252.5L380.5 1266L383 1290L387.5 1309.3L390 1325L392.1 1343.3L395.5 1406.9L398.4 1489.5L401.2 1442L403.4 1474.9L407 1544.5L407.4 979.5" fill="none" stroke="#231f20" stroke-width="3.2" stroke-linejoin="round" stroke-linecap="round"/>
<path d="M407.4 979.5L407.8 982.9L408.1 986.3L408.5 989.6L408.8 993L409.2 996.5L409.5 1000L409.9 1004L410.2 1008.2L410.6 1012.4L410.9 1016.6L411.3 1020.7L411.7 1024.7L412.1 1028.2L412.4 1031.6L412.8 1035L413.2 1038.3L413.6 1041.6L414 1045L414.4 1048.3L414.8 1051.6L415.2 1054.9L415.6 1058.2L416 1061.7L416.4 1065.5L417 1071.3L417.7 1077.9L418.5 1084.7L419.2 1091.6L419.9 1097.9L420.5 1103.5L420.8 1106.5L421.1 1109.1L421.4 1111.5L421.7 1114L422 1116.7L422.4 1120L423.4 1128L424.6 1137.7L426 1148.4L427.5 1159.8L429 1171.5L430.5 1182.8L432.2 1195.5L434 1208.5L435.9 1221.8L437.7 1235.2L439.7 1248.6L441.6 1261.8L443.5 1274.9L445.5 1287.9L447.5 1300.9L449.6 1313.9L451.6 1326.9L453.7 1340L455.8 1353.2L457.9 1366.5L460.1 1379.7L462.2 1393L464.4 1406.3L466.5 1419.5L468.6 1432.9L470.8 1446.6L473 1460.3L475.1 1473.7L477.2 1486.6L479 1498.5L480.3 1506.9L481.4 1514.7L482.5 1522.3L483.6 1529.6L484.7 1537L485.8 1544.5" fill="none" stroke="#231f20" stroke-width="3.2" stroke-linejoin="round" stroke-linecap="round"/>
<path d="M485.9 1544.5L486.1 979" fill="none" stroke="#231f20" stroke-width="3.2" stroke-linejoin="round" stroke-linecap="round"/>
<path d="M486.1 979L486.7 982.2L487.3 985.3L487.9 988.4L488.5 991.6L489 994.8L489.6 998.2L490.2 1002.3L490.8 1006.5L491.4 1010.8L491.9 1015.2L492.5 1019.8L493.1 1024.5L493.9 1030.4L494.7 1036.7L495.5 1043.1L496.3 1049.6L497.1 1056.2L497.9 1062.7L498.7 1069.4L499.5 1076.1L500.3 1082.9L501.1 1089.7L501.9 1096.5L502.7 1103.3L503.5 1110.1L504.3 1116.9L505.1 1123.7L505.9 1130.4L506.7 1137.2L507.5 1143.9L508.3 1150.4L509 1156.9L509.8 1163.4L510.6 1169.9L511.4 1176.3L512.3 1182.6L513.2 1188.7L514.1 1194.8L515.1 1200.8L516.1 1206.7L517.1 1212.4L518.2 1217.9L519.1 1222.2L520.1 1226.3L521.1 1230.3L522.1 1234.2L523.1 1238L524.2 1241.8L525.2 1245.1L526.1 1248.4L527.1 1251.6L528.1 1254.7L529.1 1257.8L530.2 1260.9L531.3 1263.8L532.4 1266.6L533.6 1269.4L534.8 1272.2L536.1 1274.9L537.3 1277.6L538.5 1280.1L539.6 1282.5L540.8 1284.9L542 1287.3L543.3 1289.6L544.5 1291.9L545.6 1294.1L546.8 1296.2L547.9 1298.4L549.1 1300.4L550.4 1302.3L551.7 1303.9L552.8 1304.9L554 1305.8L555.2 1306.6L556.4 1307.3L557.6 1308L558.8 1308.7L560 1309.4L561.2 1310.1L562.4 1310.8L563.6 1311.4L564.8 1312.2L566 1313L567.3 1314.1L568.5 1315.3L569.7 1316.6L570.9 1317.8L572.1 1319L573.2 1320L574 1320.7L574.8 1321.3L575.6 1321.8L576.3 1322.3L577.2 1322.7L578 1323L578.9 1323.2L580 1323.2L581 1323.1L582 1323L583 1322.8L583.9 1322.5L584.5 1322.2L585.1 1321.9L585.6 1321.6L586.1 1321.2L586.7 1320.8L587.2 1320.5" fill="none" stroke="#231f20" stroke-width="3.2" stroke-linejoin="round" stroke-linecap="round"/>
<path d="M586.5 1318.9L588.5 1309.1L590.5 1294.3L592.5 1274.9L594.5 1270.1L596.5 1269.9L598.5 1272.6L600.5 1276.4L602.5 1283.7L604.5 1293.1L606.5 1303.1L608.5 1313.1L610.5 1323L612.5 1332L614.5 1342.3L616.5 1354L618.5 1364.5L620.5 1372.7L622.5 1381.7L624.5 1395.6L626.5 1406.9L628.5 1413.3L630.5 1420L632.5 1429.5L634.5 1439.1L636.5 1446.7L638.5 1454L640.5 1462L642.5 1474.3L644.5 1484.6L646.5 1491.7L648.5 1499L650.5 1506.9L652.5 1514.9L654.5 1524.3L656.5 1533.9L658.5 1538.8L660.5 1541.3L660.8 1541.7L660.8 1546.1L660.5 1545.7L658.5 1543.2L656.5 1538.3L654.5 1528.7L652.5 1519.3L650.5 1511.4L648.5 1503.4L646.5 1496.1L644.5 1489L642.5 1478.7L640.5 1466.4L638.5 1458.4L636.5 1451.1L634.5 1443.5L632.5 1433.9L630.5 1424.4L628.5 1417.7L626.5 1411.3L624.5 1400L622.5 1386.1L620.5 1377.1L618.5 1369L616.5 1358.5L614.5 1346.7L612.5 1336.4L610.5 1327.4L608.5 1317.5L606.5 1307.5L604.5 1297.5L602.5 1288.1L600.5 1280.2L598.5 1274.8L596.5 1272.1L594.5 1272.3L592.5 1277.1L590.5 1296.5L588.5 1311.3L586.5 1321.1Z" fill="#231f20"/>
<path d="M586.5 1321.9L586.9 1321.8L587.2 1317.4L587.6 1317.5L587.9 1315.1L588.3 1311L588.6 1306.5L589 1308.5L589.3 1305.4L589.7 1301.6L590 1298L590.4 1293.6L590.7 1292.3L591.1 1286.3L591.4 1283.2L591.8 1277.9L592.1 1278.4L592.5 1275.3L592.8 1275.9L593.2 1272.5L593.5 1272.2L593.9 1274.2L594.2 1274.2L594.6 1269L594.9 1271.1L595.3 1269.6L595.6 1272.4L596 1271.3L596.3 1269.4L596.7 1267.8L597 1273.6L597.4 1269.4L597.7 1270.4L598.1 1273.7L598.4 1274.7L598.8 1272.8L599.1 1277.4L599.5 1276.1L599.8 1278.8L600.2 1273.1L600.5 1275.6L600.9 1277.4L601.2 1282.3L601.6 1285.8L601.9 1287.8L602.3 1283.8L602.6 1285L603 1290.9L603.3 1282.3L603.7 1283.9L604 1292.5L604.4 1291.1L604.7 1298.8L605.1 1299L605.4 1296.1L605.8 1294.4L606.1 1302L606.5 1302.4L606.8 1303.5L607.2 1312.6L607.5 1316L607.9 1317.5L608.2 1308.2L608.6 1322.5L608.9 1318.3L609.3 1319.8L609.6 1324.3L610 1322.7L610.3 1328L610.7 1323.6L611 1331L611.4 1325.3L611.7 1327.4L612.1 1336.6L612.4 1330.6L612.8 1334.3L613.1 1338L613.5 1338.3L613.8 1345L614.2 1341.8L614.5 1337.3L614.9 1344.1L615.2 1345L615.6 1349.2L615.9 1350.7L616.3 1352.1L616.6 1353.5L617 1360.5L617.3 1362.3L617.7 1357L618 1369.9L618.4 1373.3L618.7 1361L619.1 1369.2L619.4 1365L619.8 1370.6L620.1 1376.2L620.5 1374.4L620.8 1380.4L621.2 1383.6L621.5 1382.6L621.9 1377.5L622.2 1375.2L622.6 1381L622.9 1383.3L623.3 1392.7L623.6 1398.8L624 1392.4L624.3 1400L624.7 1401.7L625 1404.4L625.4 1402.4L625.7 1412.2L626.1 1406.4L626.4 1409.7L626.8 1417.1L627.1 1412.3L627.5 1404.9L627.8 1412L628.2 1413.4L628.5 1414.9L628.9 1416.9L629.2 1416.4L629.6 1426L629.9 1418L630.3 1426.6L630.6 1428.7L631 1431.5L631.3 1425.7L631.7 1434.9L632 1430.8L632.4 1428.7L632.7 1427.4L633.1 1430.8L633.4 1429.3L633.8 1434.7L634.1 1436.3L634.5 1436.4L634.8 1435.5L635.2 1441.4L635.5 1448.1L635.9 1452.9L636.2 1449.4L636.6 1452.7L636.9 1446.5L637.3 1446.2L637.6 1448.4L638 1451.7L638.3 1460L638.7 1461.4L639 1461.6L639.4 1462.2L639.7 1454.9L640.1 1459.1L640.4 1457.7L640.8 1460.2L641.1 1461.5L641.5 1462.9L641.8 1475.5L642.2 1472.7L642.5 1472.7L642.9 1482.4L643.2 1483.9L643.6 1485.6L643.9 1486.7L644.3 1482.3L644.6 1489.8L645 1482.3L645.3 1496L645.7 1487.1L646 1484.9L646.4 1491.8L646.7 1491.9L647.1 1502.2L647.4 1495.2L647.8 1500.3L648.1 1502.3L648.5 1500.6L648.8 1496.7L649.2 1506.1L649.5 1504.8L649.9 1512.8L650.2 1509.9L650.6 1510.6L650.9 1503.8L651.3 1506.7L651.6 1519.2L652 1513.4L652.3 1518.1L652.7 1519.6L653 1513.7L653.4 1518.3L653.7 1521L654.1 1523.7L654.4 1531.1L654.8 1521L655.1 1529.9L655.5 1529.3L655.8 1528.6L656.2 1534.9L656.5 1535.6L656.9 1539.3L657.2 1536.4L657.6 1543.8L657.9 1542.7L658.3 1537.1L658.6 1534.8L659 1534.4L659.3 1538L659.7 1545.6L660 1541.6L660.4 1545.6L660.7 1544.7" fill="none" stroke="#231f20" stroke-width="3.2" stroke-linejoin="round" stroke-linecap="round"/>
<path d="M345.9 988.5L345.9 1545" fill="none" stroke="#231f20" stroke-width="3.2" stroke-linejoin="round" stroke-linecap="round"/>
<path d="M666 983.9L668 992.4L670 996.4L672 999.5L674 1002.6L676 1005.7L678 1009.5L680 1013.5L682 1017.6L684 1021.6L686 1025.7L688 1029.8L690 1033.8L692 1037.9L694 1042.3L696 1047L698 1051.7L700 1056.3L702 1061.1L704 1066L706 1071L708 1075.9L710 1080.3L712 1082.8L714 1085.3L716 1087.8L718 1090.3L720 1093L722 1095.6L724 1098.3L726 1100.9L728 1101.8L730 1102.7L732 1103.6L734 1104.6L736 1104.9L738 1105.1L740 1105.4L742 1105.6L744 1105.2L746 1104.5L748 1103.9L750 1103.2L752 1102.6L754 1102.2L756 1101.7L758 1101.2L760 1100.5L762 1099.6L764 1098.7L766 1097.8L768 1097.2L770 1097.2L772 1097.3L774 1097.4L776 1097.6L778 1098.7L780 1099.8L782 1100.9L784 1102L786 1102.5L788 1103.1L790 1103.6L792 1104.2L794 1102.2L796 1100L798 1097.9L800 1095.7L802 1093.7L804 1091.8L806 1089.8L808 1088.1L810 1086.3L812 1084.5L814 1082.7L816 1080.9L818 1079.1L820 1077.3L822 1076.6L824 1076L826 1075.3L828 1074.6L830 1074L832 1074.9L834 1075.9L836 1077L838 1078L840 1079.1L842 1080.1L844 1081.2L846 1082.3L848 1083.7L850 1085.2L852 1086.6L854 1088.1L856 1089.2L858 1090.3L860 1091.4L862 1092.5L864 1093.3L866 1094.1L868 1094.9L870 1096L872 1099.2L874 1102.4L876 1103.6L878 1104.4L880 1105.3L882 1106.1L884 1108.8L886 1111.4L888 1113L890 1114L892 1115L894 1116L896 1117L898 1118.3L900 1119.6L902 1121L904 1122.3L906 1123.3L908 1123.6L910 1124L912 1124.3L914 1124.6L916 1125L918 1125.4L920 1125.8L922 1126.1L924 1126.5L926 1126.9L928 1127.2L930 1127.6L932 1127.8L934 1127.4L936 1127L938 1126.7L940 1126.4L942 1126L944 1125.7L946 1125.4L948 1125.3L950 1125.2L950 1139.8L948 1140.2L946 1140.5L944 1140.6L942 1140.7L940 1140.7L938 1140.8L936 1140.5L934 1140.2L932 1139.8L930 1139.7L928 1139.6L926 1139.6L924 1139.5L922 1139L920 1138.3L918 1137.7L916 1137.1L914 1136.5L912 1136.2L910 1135.9L908 1135.5L906 1135.2L904 1134.2L902 1132.9L900 1131.6L898 1130.3L896 1128.9L894 1127.9L892 1126.9L890 1125.9L888 1124.9L886 1123.3L884 1120.7L882 1118L880 1116.9L878 1115.8L876 1114.6L874 1113.3L872 1111.1L870 1108.9L868 1107.8L866 1107.1L864 1106.3L862 1105.5L860 1104.9L858 1104.4L856 1103.9L854 1103.4L852 1102.4L850 1101.5L848 1100.6L846 1099.8L844 1099.2L842 1098.7L840 1098.2L838 1097.6L836 1096.8L834 1096L832 1095.3L830 1094.7L828 1095.5L826 1096.4L824 1097.3L822 1098.1L820 1099L818 1100.8L816 1102.6L814 1104.4L812 1106.2L810 1108L808 1109.8L806 1111.5L804 1113.2L802 1115L800 1116.6L798 1117.9L796 1119.1L794 1120.3L792 1121.5L790 1122.1L788 1122.6L786 1123.2L784 1123.7L782 1123.3L780 1122.8L778 1122.3L776 1121.8L774 1121.4L772 1121.1L770 1120.7L768 1120.4L766 1121.2L764 1122.7L762 1124.3L760 1125.8L758 1126.8L756 1127.6L754 1128.3L752 1129.1L750 1129.5L748 1129.7L746 1129.8L744 1129.9L742 1129.6L740 1128.2L738 1126.8L736 1125.5L734 1124.1L732 1122.6L730 1121.1L728 1119.7L726 1118.2L724 1116.4L722 1114.6L720 1112.8L718 1111L716 1108.1L714 1105L712 1102L710 1098.9L708 1094L706 1088.5L704 1083L702 1077.5L700 1072.9L698 1068.8L696 1064.7L694 1060.6L692 1056.3L690 1052L688 1047.6L686 1043.2L684 1038.9L682 1034.6L680 1030.3L678 1025.9L676 1021.6L674 1017L672 1012.5L670 1007.9L668 1003.2L666 997.1Z" fill="#231f20"/>
<path d="M666 984.3L666.4 981.2L666.7 984L667.1 984.8L667.4 1005L667.8 994.3L668.1 998.3L668.5 1010.1L668.8 1005.9L669.2 988.8L669.5 993.1L669.9 989.5L670.2 997.5L670.6 998.8L670.9 1000.5L671.3 1004L671.6 1005.2L672 991.6L672.3 1012.8L672.7 1018.7L673 1018.3L673.4 997.7L673.7 1021.9L674.1 1003.2L674.4 1014.5L674.8 1006L675.1 1019.1L675.5 1005.3L675.8 1022.5L676.2 1015L676.5 1027.2L676.9 1000.1L677.2 1029.3L677.6 1005L677.9 1014L678.3 1029.1L678.6 1025L679 1015.7L679.3 1032.8L679.7 1003.4L680 1012.2L680.4 1019.1L680.7 1020.3L681.1 1023.2L681.4 1025L681.8 1024.8L682.1 1011.6L682.5 1032L682.8 1019.7L683.2 1009.6L683.5 1050.4L683.9 1028.3L684.2 1036.3L684.6 1042.9L684.9 1040.8L685.3 1017.6L685.6 1013.5L686 1038.5L686.3 1040.9L686.7 1050.5L687 1055.9L687.4 1041.9L687.7 1034.7L688.1 1049.2L688.4 1045.2L688.8 1057.5L689.1 1054.4L689.5 1024.8L689.8 1029.1L690.2 1038.2L690.5 1022.1L690.9 1041.8L691.2 1052.4L691.6 1042.9L691.9 1048L692.3 1036.8L692.6 1046.1L693 1042.7L693.3 1046.2L693.7 1026L694 1065.4L694.4 1058.3L694.7 1072.1L695.1 1067.5L695.4 1060.4L695.8 1040L696.1 1070.5L696.5 1062L696.8 1052.4L697.2 1042L697.5 1042.1L697.9 1042.2L698.2 1079.3L698.6 1063.4L698.9 1055.7L699.3 1048.8L699.6 1061.2L700 1059.3L700.3 1072.4L700.7 1059.5L701 1071.3L701.4 1076.2L701.7 1050.8L702.1 1076.6L702.4 1074.8L702.8 1069.1L703.1 1075.4L703.5 1060L703.8 1073.3L704.2 1087.9L704.5 1076.6L704.9 1090L705.2 1056.8L705.6 1070.6L705.9 1093L706.3 1093.7L706.6 1065.5L707 1080.9L707.3 1101.9L707.7 1072.4L708 1102.5L708.4 1091.2L708.7 1082.1L709.1 1070.2L709.4 1065.8L709.8 1082.7L710.1 1090.1L710.5 1089.6L710.8 1082.9L711.2 1080.1L711.5 1108.5L711.9 1099.2L712.2 1071.6L712.6 1068.6L712.9 1087.1L713.3 1072L713.6 1097.4L714 1096L714.3 1088.8L714.7 1093.9L715 1084.4L715.4 1119.4L715.7 1112.7L716.1 1073.6L716.4 1112.2L716.8 1117.4L717.1 1100.7L717.5 1102.3L717.8 1099.2L718.2 1094.3L718.5 1101.9L718.9 1085.8L719.2 1098.2L719.6 1103.1L719.9 1084.9L720.3 1122.9L720.6 1084.9L721 1113.8L721.3 1088L721.7 1126.1L722 1087.3L722.4 1102.9L722.7 1115.4L723.1 1116.1L723.4 1108L723.8 1081L724.1 1127.6L724.5 1122L724.8 1120.2L725.2 1128.3L725.5 1106.1L725.9 1097.8L726.2 1110.6L726.6 1117.1L726.9 1115.1L727.3 1101.9L727.6 1087.3L728 1098.7L728.3 1118.6L728.7 1117L729 1119L729.4 1099.3L729.7 1116.9L730.1 1125.3L730.4 1096.4L730.8 1115.5L731.1 1105.3L731.5 1093.7L731.8 1112.9L732.2 1120.4L732.5 1092.6L732.9 1107.9L733.2 1108.7L733.6 1102.5L733.9 1094.9L734.3 1098.8L734.6 1114.8L735 1139.2L735.3 1101.4L735.7 1105.3L736 1108.5L736.4 1093.3L736.7 1118.9L737.1 1098.1L737.4 1116.4L737.8 1129.7L738.1 1118.4L738.5 1132L738.8 1098.2L739.2 1125.9L739.5 1130.7L739.9 1122.4L740.2 1140.1L740.6 1117.5L740.9 1130.5L741.3 1096.4L741.6 1096.8L742 1086.5L742.3 1138.5L742.7 1118.2L743 1089.9L743.4 1098L743.7 1111.2L744.1 1105.7L744.4 1113.6L744.8 1124.1L745.1 1120.1L745.5 1109.3L745.8 1094.8L746.2 1107.2L746.5 1090.8L746.9 1131.9L747.2 1100.4L747.6 1125.5L747.9 1145.8L748.3 1076.4L748.6 1128.5L749 1122.3L749.3 1136.7L749.7 1143.8L750 1137.6L750.4 1118.3L750.7 1129.6L751.1 1110.1L751.4 1128.4L751.8 1100.4L752.1 1118L752.5 1086.6L752.8 1086.1L753.2 1108.2L753.5 1085.7L753.9 1120.7L754.2 1108.4L754.6 1141.2L754.9 1113.4L755.3 1083.9L755.6 1139L756 1100.5L756.3 1075.3L756.7 1106.6L757 1116.5L757.4 1147.7L757.7 1125.7L758.1 1110.7L758.4 1134.4L758.8 1082.7L759.1 1136L759.5 1117.9L759.8 1137.6L760.2 1120.1L760.5 1122.6L760.9 1127.7L761.2 1116.2L761.6 1112.5L761.9 1135.3L762.3 1121.4L762.6 1109.5L763 1121.5L763.3 1119.6L763.7 1089.4L764 1101L764.4 1129.3L764.7 1099.4L765.1 1099.1L765.4 1097.8L765.8 1114.7L766.1 1091.7L766.5 1107L766.8 1110.6L767.2 1119.8L767.5 1124.2L767.9 1112.2L768.2 1128.5L768.6 1109.7L768.9 1114.2L769.3 1086.2L769.6 1127.9L770 1081.6L770.3 1100.3L770.7 1125L771 1131.2L771.4 1091.3L771.7 1120L772.1 1098.7L772.4 1096L772.8 1095.8L773.1 1121.5L773.5 1121.9L773.8 1084.5L774.2 1084.5L774.5 1082.1L774.9 1121.8L775.2 1129.8L775.6 1095.7L775.9 1126.8L776.3 1126.6L776.6 1086.7L777 1120.5L777.3 1096.2L777.7 1106.9L778 1113.2L778.4 1123L778.7 1080.2L779.1 1113.3L779.4 1114.4L779.8 1092.4L780.1 1098.4L780.5 1119.9L780.8 1089.8L781.2 1110.5L781.5 1133.1L781.9 1097.6L782.2 1141.8L782.6 1130.5L782.9 1091.5L783.3 1109.2L783.6 1113.4L784 1134.5L784.3 1100.7L784.7 1101.2L785 1115.8L785.4 1112.1L785.7 1112.7L786.1 1110.9L786.4 1130.6L786.8 1129.6L787.1 1093.6L787.5 1115.4L787.8 1133.3L788.2 1113.1L788.5 1127.8L788.9 1126.4L789.2 1112.5L789.6 1111.6L789.9 1093.7L790.3 1100.9L790.6 1127.2L791 1119.1L791.3 1115.2L791.7 1126.5L792 1124.5L792.4 1131.1L792.7 1124.9L793.1 1100.7L793.4 1113.4L793.8 1120.8L794.1 1098.8L794.5 1095.9L794.8 1128.2L795.2 1104L795.5 1096.4L795.9 1113.6L796.2 1106.5L796.6 1104L796.9 1104.5L797.3 1108.3L797.6 1093.8L798 1112.5L798.3 1107.4L798.7 1112.4L799 1108.3L799.4 1105L799.7 1117.4L800.1 1111.9L800.4 1094.3L800.8 1110.5L801.1 1084.3L801.5 1112.7L801.8 1089.9L802.2 1093.1L802.5 1125L802.9 1097.7L803.2 1131.5L803.6 1096L803.9 1113.6L804.3 1098.2L804.6 1083.7L805 1114.9L805.3 1101.5L805.7 1095.3L806 1074.7L806.4 1092.8L806.7 1094.1L807.1 1096.8L807.4 1103.5L807.8 1080.3L808.1 1113.7L808.5 1105.9L808.8 1124.5L809.2 1090.8L809.5 1085.5L809.9 1099.9L810.2 1103.8L810.6 1082.1L810.9 1123.8L811.3 1087.6L811.6 1084.4L812 1093.4L812.3 1069.1L812.7 1115.4L813 1093.2L813.4 1118.2L813.7 1101.5L814.1 1097L814.4 1113.8L814.8 1092.8L815.1 1086.8L815.5 1081.5L815.8 1095L816.2 1113.7L816.5 1079.1L816.9 1068.9L817.2 1095.5L817.6 1083.7L817.9 1107.9L818.3 1094L818.6 1096L819 1096.5L819.3 1071L819.7 1068.2L820 1107.1L820.4 1086.3L820.7 1106.6L821.1 1081.9L821.4 1068.4L821.8 1086.3L822.1 1099.3L822.5 1091.3L822.8 1105.1L823.2 1104.2L823.5 1066.8L823.9 1107.2L824.2 1095.9L824.6 1083.8L824.9 1103.2L825.3 1068.7L825.6 1090L826 1097.4L826.3 1078.5L826.7 1094.5L827 1075.4L827.4 1068.4L827.7 1099.7L828.1 1084L828.4 1086.9L828.8 1107L829.1 1100.1L829.5 1083.8L829.8 1092.9L830.2 1074.7L830.5 1068.3L830.9 1094L831.2 1095.5L831.6 1087.7L831.9 1076.4L832.3 1090.1L832.6 1103.5L833 1089.7L833.3 1082L833.7 1081.8L834 1078.3L834.4 1108.5L834.7 1074.9L835.1 1080.6L835.4 1085.4L835.8 1105.4L836.1 1084L836.5 1088.4L836.8 1088L837.2 1078.2L837.5 1102.7L837.9 1101.6L838.2 1082L838.6 1084.9L838.9 1081.6L839.3 1078.5L839.6 1105.4L840 1085.1L840.3 1106.6L840.7 1073L841 1097.8L841.4 1080.3L841.7 1073.3L842.1 1091.3L842.4 1089.3L842.8 1088L843.1 1074L843.5 1091.5L843.8 1079.9L844.2 1071.3L844.5 1105.2L844.9 1099.5L845.2 1075.2L845.6 1085.1L845.9 1104.1L846.3 1072.5L846.6 1103.8L847 1081.8L847.3 1104L847.7 1073.9L848 1101.5L848.4 1093L848.7 1105.1L849.1 1089.5L849.4 1086.5L849.8 1085.8L850.1 1086.8L850.5 1105.8L850.8 1079.3L851.2 1106.6L851.5 1106.8L851.9 1089.6L852.2 1097.5L852.6 1094L852.9 1080L853.3 1095.4L853.6 1099L854 1103.2L854.3 1082.9L854.7 1088.2L855 1095.6L855.4 1100L855.7 1101.3L856.1 1093.8L856.4 1105L856.8 1085.1L857.1 1103.3L857.5 1107.5L857.8 1098.2L858.2 1090L858.5 1088.9L858.9 1108.4L859.2 1086.9L859.6 1108.2L859.9 1109.5L860.3 1088.9L860.6 1096.3L861 1092L861.3 1087.3L861.7 1088.7L862 1086.5L862.4 1102.5L862.7 1094.9L863.1 1096.6L863.4 1099.5L863.8 1092.5L864.1 1105L864.5 1106.8L864.8 1102.7L865.2 1101.3L865.5 1110.5L865.9 1099.4L866.2 1094.9L866.6 1100.6L866.9 1092.3L867.3 1111.2L867.6 1090.4L868 1090.3L868.3 1099L868.7 1095.6L869 1104.5L869.4 1092.3L869.7 1098.1L870.1 1092.9L870.4 1111.4L870.8 1096.6L871.1 1115.8L871.5 1097.7L871.8 1110.6L872.2 1118L872.5 1115.7L872.9 1098.8L873.2 1098.1L873.6 1107.7L873.9 1111.1L874.3 1095.2L874.6 1110.2L875 1106L875.3 1117L875.7 1106.8L876 1096.7L876.4 1110.2L876.7 1117.8L877.1 1108.3L877.4 1103.8L877.8 1106.1L878.1 1110.3L878.5 1104.6L878.8 1103.2L879.2 1097L879.5 1122.1L879.9 1109.1L880.2 1117.8L880.6 1121.5L880.9 1110.1L881.3 1112.8L881.6 1102.1L882 1108.8L882.3 1105.7L882.7 1122.3L883 1103.2L883.4 1103.4L883.7 1107.2L884.1 1124.1L884.4 1127.9L884.8 1124.8L885.1 1106.8L885.5 1118L885.8 1129.4L886.2 1121.2L886.5 1107.8L886.9 1108.2L887.2 1118.2L887.6 1118.2L887.9 1131.2L888.3 1128.1L888.6 1123.2L889 1121.6L889.3 1110.6L889.7 1128.8L890 1123.2L890.4 1117.4L890.7 1122.2L891.1 1123.6L891.4 1124.4L891.8 1110.6L892.1 1126.1L892.5 1113.7L892.8 1116L893.2 1132.5L893.5 1134.3L893.9 1118.7L894.2 1115.4L894.6 1129.9L894.9 1131L895.3 1122.3L895.6 1120.2L896 1112.9L896.3 1112.9L896.7 1134.1L897 1117.1L897.4 1136.3L897.7 1134.7L898.1 1114.1L898.4 1135.9L898.8 1134.8L899.1 1115.6L899.5 1115.4L899.8 1125.4L900.2 1124.5L900.5 1122.6L900.9 1116L901.2 1125.8L901.6 1128L901.9 1119.3L902.3 1116.9L902.6 1129.6L903 1133.5L903.3 1134.7L903.7 1119.1L904 1129.4L904.4 1141.9L904.7 1118.5L905.1 1129.3L905.4 1125.4L905.8 1138.5L906.1 1130.8L906.5 1128.9L906.8 1126.2L907.2 1140.9L907.5 1118.9L907.9 1118.9L908.2 1124.6L908.6 1134.7L908.9 1138.1L909.3 1134.7L909.6 1127.8L910 1123.2L910.3 1119.2L910.7 1139.3L911 1122.7L911.4 1120.1L911.7 1118.9L912.1 1140.6L912.4 1138.1L912.8 1136.5L913.1 1134.5L913.5 1121.9L913.8 1118.9L914.2 1128.3L914.5 1130.9L914.9 1123.5L915.2 1126.1L915.6 1123.9L915.9 1133.2L916.3 1121.1L916.6 1132.4L917 1117.7L917.3 1140.1L917.7 1121.2L918 1145.3L918.4 1138.9L918.7 1133.4L919.1 1135.8L919.4 1139.3L919.8 1135.4L920.1 1143.1L920.5 1120.4L920.8 1124.3L921.2 1133.6L921.5 1145.5L921.9 1142.1L922.2 1147.2L922.6 1141.8L922.9 1142.4L923.3 1138.4L923.6 1132L924 1132.9L924.3 1127.8L924.7 1134.4L925 1144.5L925.4 1124L925.7 1118.3L926.1 1123.1L926.4 1126.8L926.8 1129.4L927.1 1134.9L927.5 1134.2L927.8 1119.5L928.2 1119.8L928.5 1121.5L928.9 1130.8L929.2 1128.9L929.6 1122.8L929.9 1131.1L930.3 1148.9L930.6 1124.7L931 1138.1L931.3 1127.6L931.7 1134.5L932 1148.9L932.4 1135.7L932.7 1125.5L933.1 1132.3L933.4 1136L933.8 1123.1L934.1 1121.7L934.5 1131.9L934.8 1145.8L935.2 1133.6L935.5 1142.8L935.9 1120.4L936.2 1143.8L936.6 1125.3L936.9 1124.4L937.3 1139.6L937.6 1134.5L938 1139.1L938.3 1133.8L938.7 1128.2L939 1130.5L939.4 1147.8L939.7 1131.7L940.1 1122.8L940.4 1141.2L940.8 1120L941.1 1138L941.5 1148.3L941.8 1117.3L942.2 1136.7L942.5 1128.4L942.9 1136.4L943.2 1137.5L943.6 1135.8L943.9 1134.3L944.3 1137.6L944.6 1142.5L945 1118.1L945.3 1121L945.7 1148.4L946 1130L946.4 1147.2L946.7 1142.9L947.1 1137.1L947.4 1143.5L947.8 1144.3L948.1 1138.8L948.5 1132L948.8 1136.4L949.2 1121.6L949.5 1133.1L949.9 1129.2" fill="none" stroke="#231f20" stroke-width="3.2" stroke-linejoin="round" stroke-linecap="round"/>
</g>
<path d="M278.1 1578V1567.5M278.1 945.6V956.1M412.3 1578V1567.5M412.3 945.6V956.1M546.5 1578V1567.5M546.5 945.6V956.1M680.6 1578V1567.5M680.6 945.6V956.1M814.8 1578V1567.5M814.8 945.6V956.1M144 1024.7H154.5M948.9 1024.7H938.4M144 1103.7H154.5M948.9 1103.7H938.4M144 1182.8H154.5M948.9 1182.8H938.4M144 1261.8H154.5M948.9 1261.8H938.4M144 1340.8H154.5M948.9 1340.8H938.4M144 1419.9H154.5M948.9 1419.9H938.4M144 1499H154.5M948.9 1499H938.4" stroke="#231f20" stroke-width="2.3" fill="none"/>
<rect x="144" y="945.6" width="804.9" height="632.4" fill="none" stroke="#231f20" stroke-width="2.1"/>
<text x="116.8" y="69.2" text-anchor="end">0</text>
<text x="116.8" y="149.6" text-anchor="end">&#8211;10</text>
<text x="116.8" y="230" text-anchor="end">&#8211;20</text>
<text x="116.8" y="310.4" text-anchor="end">&#8211;30</text>
<text x="116.8" y="390.8" text-anchor="end">&#8211;40</text>
<text x="116.8" y="471.3" text-anchor="end">&#8211;50</text>
<text x="116.8" y="551.7" text-anchor="end">&#8211;60</text>
<text x="116.8" y="632.1" text-anchor="end">&#8211;70</text>
<text x="116.8" y="712.5" text-anchor="end">&#8211;80</text>
<text x="127.7" y="741.9" text-anchor="middle">0.8</text>
<text x="265.2" y="741.9" text-anchor="middle">0.85</text>
<text x="402.6" y="741.9" text-anchor="middle">0.9</text>
<text x="539.1" y="741.9" text-anchor="middle">0.95</text>
<text x="675.7" y="741.9" text-anchor="middle">1</text>
<text x="815.5" y="741.9" text-anchor="middle">1.05</text>
<text x="953.6" y="741.9" text-anchor="middle">1.1</text>
<text transform="translate(539.4 792.0) scale(1 1.045)" text-anchor="middle">Freq (GHz)</text>
<text x="3.6" y="24.5"><tspan font-size="29" dy="-3.3">(</tspan><tspan dy="3.3" dx="0.6">a</tspan><tspan font-size="29" dy="-3.3" dx="0.3">)</tspan></text>
<text transform="translate(26.8 382.5) rotate(-90)" text-anchor="middle">|<tspan class="it">H</tspan>(<tspan class="it">j</tspan><tspan class="sr">&#969;</tspan>)| (dB)</text>
<text x="130.9" y="956.1" text-anchor="end">200</text>
<text x="130.9" y="1035.2" text-anchor="end">150</text>
<text x="130.9" y="1114.2" text-anchor="end">100</text>
<text x="130.9" y="1193.2" text-anchor="end">50</text>
<text x="130.9" y="1272.3" text-anchor="end">0</text>
<text x="130.9" y="1351.3" text-anchor="end">&#8211;50</text>
<text x="130.9" y="1430.4" text-anchor="end">&#8211;100</text>
<text x="130.9" y="1509.5" text-anchor="end">&#8211;150</text>
<text x="130.9" y="1588.5" text-anchor="end">&#8211;200</text>
<text x="144" y="1615.8" text-anchor="middle">0.8</text>
<text x="278.1" y="1615.8" text-anchor="middle">0.85</text>
<text x="412.3" y="1615.8" text-anchor="middle">0.9</text>
<text x="546.5" y="1615.8" text-anchor="middle">0.95</text>
<text x="680.6" y="1615.8" text-anchor="middle">1</text>
<text x="814.8" y="1615.8" text-anchor="middle">1.05</text>
<text x="948.9" y="1615.8" text-anchor="middle">1.1</text>
<text transform="translate(546.9 1667.8) scale(1 1.045)" text-anchor="middle">Freq (GHz)</text>
<text x="0.6" y="903"><tspan font-size="29" dy="-3.3">(</tspan><tspan dy="3.3" dx="0.6">b</tspan><tspan font-size="29" dy="-3.3" dx="0.3">)</tspan></text>
<text transform="translate(24.3 1262) rotate(-90)" text-anchor="middle"><tspan class="sr">&#981;</tspan>(j<tspan class="sr">&#969;</tspan>) (&#176;)</text>
</svg></body></html>
